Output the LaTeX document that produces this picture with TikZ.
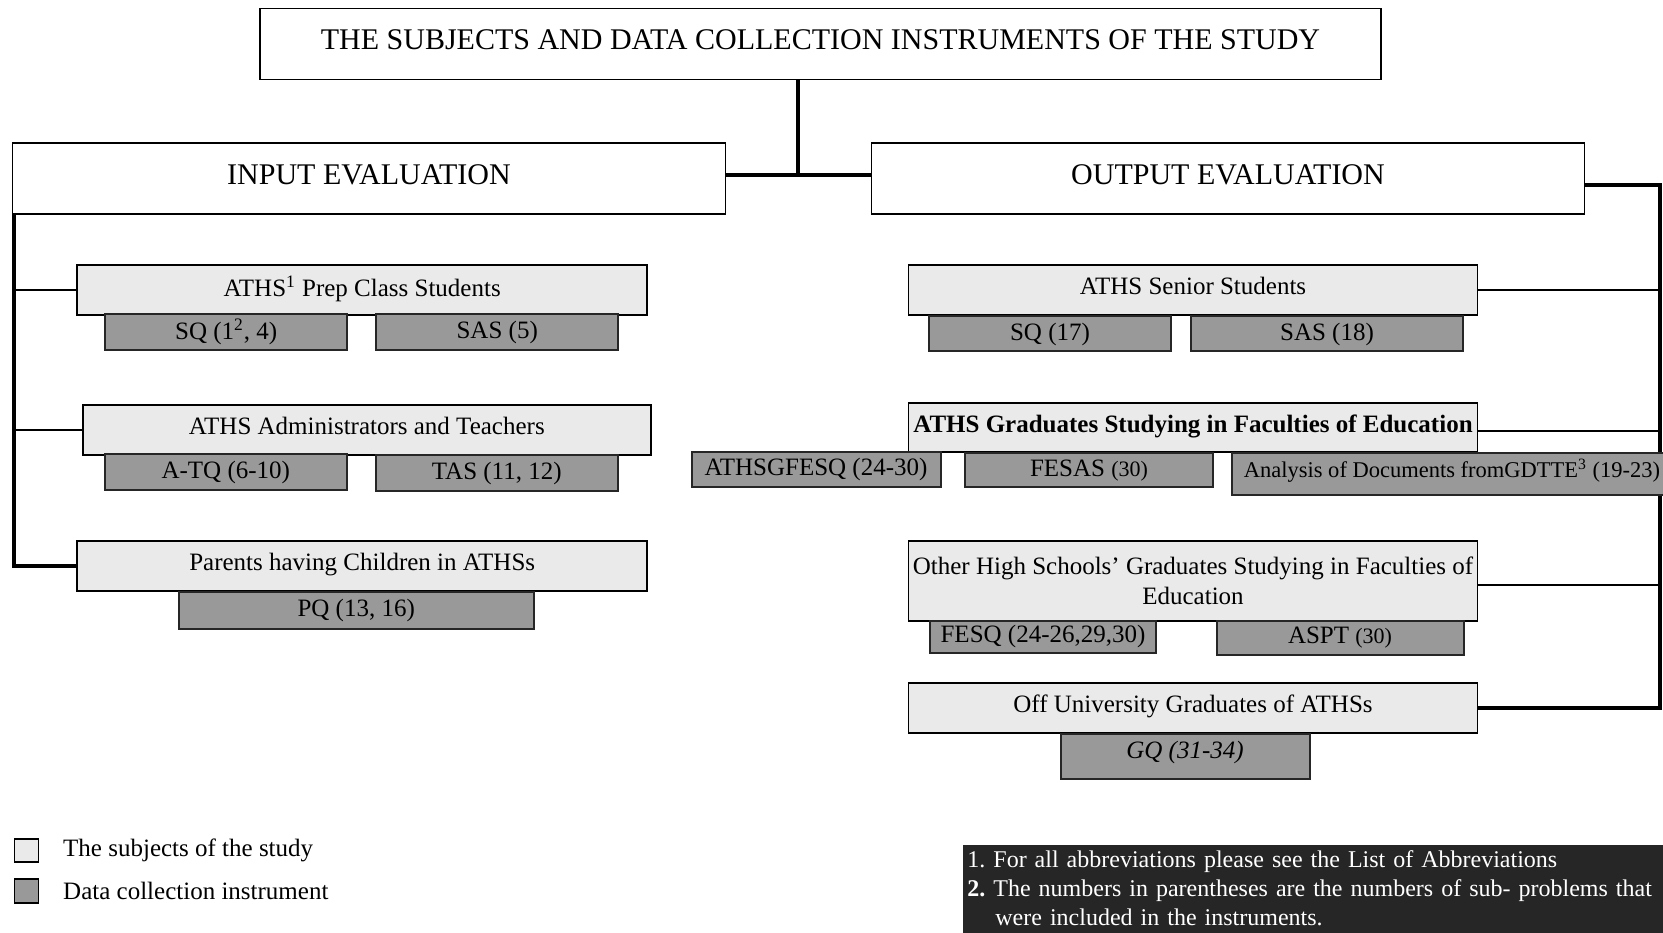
\documentclass[tikz,border=0pt]{standalone}
\usepackage{fontspec}
\setmainfont{Liberation Serif}
\usepackage{xcolor}
\usepackage{tikz}
\usetikzlibrary{positioning, backgrounds}

\definecolor{subjfill}{HTML}{EAEAEA}
\definecolor{instfill}{HTML}{999999}
\definecolor{notefill}{HTML}{262626}

\begin{document}
\begin{tikzpicture}[x=1pt, y=1pt, node distance=21pt]
\tikzstyle{heading} = [rectangle, minimum width=356.5pt, minimum height=35.5pt, inner sep=0pt, text centered, text depth=4.5pt, draw=black, line width=0.8pt, fill=white, font=\fontsize{15}{18}\selectfont]
\tikzstyle{subject} = [rectangle, minimum width=284.5pt, minimum height=25pt, inner sep=0pt, text centered, text depth=4pt, draw=black, line width=0.8pt, fill=subjfill, font=\fontsize{12.5}{15}\selectfont]
\tikzstyle{instrument} = [rectangle, minimum width=121pt, minimum height=18pt, inner sep=0pt, text centered, draw=black!85, line width=1pt, fill=instfill, font=\fontsize{12.5}{15}\selectfont]
\tikzstyle{bus} = [line width=2pt]
\tikzstyle{branch} = [line width=1pt]
\tikzstyle{legend} = [inner sep=0pt, anchor=west, font=\fontsize{12.5}{15}\selectfont]

\useasboundingbox (0,0) rectangle (831.5,466);

% headings
\node (title) [heading, minimum width=560.5pt] at (410.25,444) {THE SUBJECTS AND DATA COLLECTION INSTRUMENTS OF THE STUDY};
\node (input) [heading] at (184.5,376.65) {INPUT EVALUATION};
\node (output) [heading] at (614,376.65) {OUTPUT EVALUATION};

% input evaluation
\node (prep) [subject, minimum width=285pt] at (181.1,321) {ATHS\textsuperscript{1} Prep Class Students};
\node (sqprep) [instrument, below of=prep, xshift=-68pt] {SQ (1\textsuperscript{2}, 4)};
\node (sasprep) [instrument, below of=prep, xshift=67.5pt] {SAS (5)};
\node (admin) [subject, minimum width=284pt] at (183.4,251) {ATHS Administrators and Teachers};
\node (atq) [instrument, below of=admin, xshift=-70.5pt] {A-TQ (6-10)};
\node (tas) [instrument, below of=admin, xshift=65pt, yshift=-0.5pt] {TAS (11, 12)};
\node (parents) [subject, minimum width=285pt] at (181.1,183) {Parents having Children in ATHSs};
\node (pq) [instrument, below of=parents, xshift=-3pt, yshift=-1pt, minimum width=177.5pt, minimum height=18.5pt] {PQ (13, 16)};

% output evaluation
\node (senior) [subject] at (596.5,321) {ATHS Senior Students};
\node (sqsenior) [instrument, below of=senior, xshift=-71.5pt, yshift=-1pt, minimum height=17.5pt] {SQ (17)};
\node (sassenior) [instrument, below of=senior, xshift=67pt, yshift=-1pt, minimum width=136pt, minimum height=17.5pt] {SAS (18)};
\node (grads) [subject, minimum height=24.5pt, font=\fontsize{12.5}{15}\selectfont\bfseries] at (596.5,252.25) {ATHS Graduates Studying in Faculties of Education};
\node (athsgfesq) [instrument, below of=grads, xshift=-188.5pt, minimum width=124.5pt, minimum height=17.5pt] {ATHSGFESQ (24-30)};
\node (fesas) [instrument, below of=grads, xshift=-52pt, yshift=-0.5pt, minimum width=124pt, minimum height=17pt] {FESAS {\fontsize{11}{13}\selectfont(30)}};
\node (gdtte) [instrument, below of=grads, xshift=129.5pt, yshift=-2.25pt, minimum width=220pt, minimum height=21pt, text depth=6pt, font=\fontsize{11.25}{13}\selectfont] {Analysis of Documents fromGDTTE\textsuperscript{3} (19-23)};
\node (other) [subject, minimum height=40pt, text depth={}, align=center] at (596.5,175.6) {Other High Schools’ Graduates Studying in Faculties of\\ Education};
\node (fesq) [instrument, below of=other, xshift=-75pt, yshift=-7pt, minimum width=113pt, minimum height=16pt] {FESQ (24-26,29,30)};
\node (aspt) [instrument, below of=other, xshift=73.5pt, yshift=-7.5pt, minimum width=123.5pt, minimum height=17pt] {ASPT {\fontsize{11}{13}\selectfont(30)}};
\node (offuni) [subject] at (596.5,112) {Off University Graduates of ATHSs};
\node (gq) [instrument, below of=offuni, xshift=-4pt, yshift=-3pt, minimum width=124.5pt, minimum height=22.5pt, text depth=6pt, font=\fontsize{12.5}{15}\selectfont\itshape] {GQ (31-34)};

% connectors
\begin{scope}[on background layer]
\coordinate (hub) at (398.8,378.5);
\coordinate (lbus) at (7,358.9);
\coordinate (rbus) at (830,373.5);
\draw [bus] (title.south -| hub) -- (hub);
\draw [bus] (input.east |- hub) -- (output.west |- hub);
\draw [bus] (input.south -| lbus) |- (parents.west);
\draw [branch] (lbus |- prep.west) -- (prep.west);
\draw [branch] (lbus |- admin.west) -- (admin.west);
\draw [bus] (output.east |- rbus) -- (rbus) |- (offuni.east);
\draw [branch] (senior.east) -- (senior.east -| rbus);
\draw [branch] ([yshift=-2pt]grads.east) -- ([yshift=-2pt]grads.east -| rbus);
\draw [branch] ([yshift=-2pt]other.east) -- ([yshift=-2pt]other.east -| rbus);
\end{scope}

% legend and notes
\node (legsubj) [rectangle, draw=black, line width=0.8pt, fill=subjfill, minimum width=12pt, minimum height=11.5pt, inner sep=0pt] at (13.25,40.75) {};
\node (legsubjtext) [legend, right=11.75pt of legsubj] {The subjects of the study};
\node (leginst) [rectangle, draw=black, line width=0.8pt, fill=instfill, minimum width=12pt, minimum height=12pt, inner sep=0pt] at (13.25,20.5) {};
\node (leginsttext) [legend, right=11.75pt of leginst] {Data collection instrument};
\node (notes) [anchor=north west, fill=notefill, text=white, inner xsep=2pt, inner ysep=2.5pt, text width=360pt, align=left, font=\fontsize{12}{14.5}\selectfont\frenchspacing] at (481.5,43.5) {1. For all abbreviations please see the List of Abbreviations\\ \textbf{2.} The numbers in parentheses are the numbers of sub- problems that\\ \hspace*{14pt}were included in the instruments.\rule[-8pt]{0pt}{8pt}};
\end{tikzpicture}
\end{document}
